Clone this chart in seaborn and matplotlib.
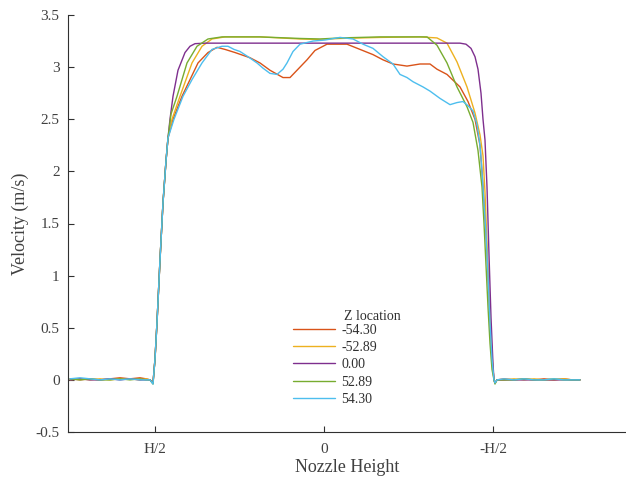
import numpy as np
import pandas as pd
import matplotlib
matplotlib.use("Agg")
import matplotlib.pyplot as plt
import seaborn as sns

# ---------------- data (x: position across nozzle, arbitrary units; H/2 = -169, -H/2 = +169) ----
z_labels = ["-54.30", "-52.89", "0.00", "52.89", "54.30"]
colors = ["#D95319", "#EDB120", "#7E2F8E", "#77AC30", "#4DBEEE"]

base_left_x = [-254, -244, -234, -224, -214, -204, -194, -184, -178, -174, -171]
base_right_x = [173, 180, 190, 200, 210, 220, 230, 240, 248, 256]

rise_x = [-169, -167, -164, -161, -158, -156]
rise_y = [0.20, 0.55, 1.15, 1.70, 2.10, 2.32]

# -54.30
x_m5430 = base_left_x + rise_x + [-151, -142, -134, -126, -116, -107, -99, -89, -74, -64, -54, -41, -34, -24,
                                  -17, -9, 3, 23, 36, 49, 59, 69, 83, 96, 106, 113, 123, 136, 144, 151, 156,
                                  158, 160, 162, 164, 166, 168, 170, 171] + base_right_x
y_m5430 = [0.01, 0.0, 0.01, 0.0, 0.01, 0.02, 0.01, 0.02, 0.01, 0.0, -0.03] + rise_y + \
          [2.50, 2.72, 2.88, 3.04, 3.14, 3.19, 3.17, 3.14, 3.09, 3.04, 2.97, 2.90, 2.90, 3.00,
           3.07, 3.16, 3.22, 3.22, 3.17, 3.12, 3.07, 3.03, 3.01, 3.03, 3.03, 2.98, 2.93, 2.81, 2.67, 2.50, 2.25,
           2.00, 1.70, 1.40, 1.00, 0.55, 0.20, 0.00, -0.03] + \
          [0.0, 0.01, 0.0, 0.01, 0.0, 0.01, 0.0, 0.01, 0.0, 0.0]

# -52.89
x_m5289 = base_left_x + rise_x + [-152, -144, -132, -122, -112, -99, -64, -24, -4, 16, 56, 96, 113, 123, 133,
                                  143, 151, 156, 159, 161, 163, 165, 167, 169, 170, 171] + base_right_x
y_m5289 = [0.0, 0.01, 0.0, 0.01, 0.0, 0.01, 0.01, 0.0, 0.01, 0.0, -0.03] + rise_y + \
          [2.50, 2.72, 3.04, 3.20, 3.27, 3.29, 3.29, 3.27, 3.265, 3.275, 3.285, 3.29, 3.28, 3.23, 3.05,
           2.81, 2.56, 2.35, 2.15, 1.80, 1.30, 0.80, 0.40, 0.10, 0.00, -0.03] + \
          [0.0, 0.0, 0.01, 0.0, 0.01, 0.0, 0.0, 0.01, 0.0, 0.0]

# 0.00
x_0 = base_left_x + rise_x + [-154, -151, -146, -139, -134, -129, -119, 0, 136, 142, 147, 151, 154, 157,
                              159, 161, 163, 165, 167, 169, 170, 171] + base_right_x
y_0 = [0.0, 0.01, 0.0, 0.0, 0.01, 0.0, 0.01, 0.0, 0.0, 0.0, -0.03] + rise_y + \
      [2.50, 2.72, 2.97, 3.14, 3.20, 3.225, 3.23, 3.23, 3.23, 3.22, 3.18, 3.10, 2.98, 2.75,
       2.50, 2.30, 1.85, 1.20, 0.60, 0.15, 0.00, -0.03] + \
      [0.0, 0.0, 0.0, 0.0, 0.0, 0.0, 0.0, 0.0, 0.0, 0.0]

# 52.89
x_5289 = base_left_x + rise_x + [-153, -147, -137, -127, -116, -102, -64, -24, -4, 16, 56, 96, 103, 113, 123,
                                 133, 143, 149, 154, 158, 160, 162, 164, 166, 168, 170, 171] + base_right_x
y_5289 = [0.01, 0.0, 0.01, 0.0, 0.0, 0.01, 0.0, 0.01, 0.0, 0.0, -0.04] + rise_y + \
         [2.55, 2.72, 3.04, 3.20, 3.27, 3.29, 3.29, 3.275, 3.27, 3.28, 3.29, 3.29, 3.29, 3.21, 3.04,
          2.81, 2.62, 2.47, 2.20, 1.85, 1.50, 1.10, 0.70, 0.35, 0.10, 0.00, -0.04] + \
         [0.0, 0.0, 0.0, 0.01, 0.0, 0.0, 0.01, 0.0, 0.0, 0.0]

# 54.30
x_5430 = base_left_x + rise_x + [-150, -141, -132, -122, -112, -102, -96, -90, -84, -76, -67, -61, -54, -47,
                                 -41, -37, -31, -24, -11, 1, 16, 29, 39, 49, 59, 69, 76, 83, 89, 99, 106, 116,
                                 126, 133, 139, 144, 149, 153, 156, 158, 160, 162, 164, 166, 168, 170, 171] + base_right_x
y_5430 = [0.01, 0.02, 0.01, 0.0, 0.01, 0.0, 0.01, 0.0, 0.0, 0.0, -0.04] + rise_y + \
         [2.50, 2.72, 2.88, 3.04, 3.17, 3.20, 3.20, 3.17, 3.15, 3.10, 3.04, 2.99, 2.94, 2.93,
          2.98, 3.04, 3.15, 3.22, 3.25, 3.26, 3.285, 3.27, 3.22, 3.18, 3.10, 3.03, 2.93, 2.90, 2.86, 2.81, 2.77,
          2.70, 2.64, 2.66, 2.67, 2.63, 2.58, 2.45, 2.25, 2.00, 1.70, 1.40, 1.00, 0.55, 0.20, 0.00, -0.03] + \
         [0.0, 0.01, 0.0, 0.01, 0.0, 0.0, 0.01, 0.0, 0.0, 0.0]

tick_pos = [-169, 0, 169]
tick_labels = ["H/2", "0", "-H/2"]
y_ticks = [-0.5, 0, 0.5, 1, 1.5, 2, 2.5, 3, 3.5]
y_tick_labels = ["-0.5", "0", "0.5", "1", "1.5", "2", "2.5", "3", "3.5"]

series_x = [x_m5430, x_m5289, x_0, x_5289, x_5430]
series_y = [y_m5430, y_m5289, y_0, y_5289, y_5430]

frames = []
for lab, xs, ys in zip(z_labels, series_x, series_y):
    frames.append(pd.DataFrame({"x": xs, "y": ys, "Z location": lab}))
df = pd.concat(frames, ignore_index=True)

# ---------------- plot ----------------
sns.set_style("white")
plt.rcParams["font.family"] = ["Liberation Serif", "DejaVu Serif"]

fig = plt.figure(figsize=(6.26, 4.79), dpi=100)
ax = fig.add_axes([68 / 626, 1 - 432 / 479, 1 - 68 / 626, (432 - 15) / 479])

sns.lineplot(data=df, x="x", y="y", hue="Z location", hue_order=z_labels,
             palette=dict(zip(z_labels, colors)), sort=False, estimator=None,
             units="Z location", linewidth=1.0, ax=ax, legend=False)

ax.set_xlim(-256, 302)
ax.set_ylim(-0.5, 3.5)
ax.set_xticks(tick_pos)
ax.set_xticklabels(tick_labels)
ax.set_yticks(y_ticks)
ax.set_yticklabels(y_tick_labels)
ax.tick_params(bottom=True, left=True, direction="in", length=4, width=0.8,
               color="#303030", labelcolor="#404040", labelsize=11)
ax.tick_params(axis="x", pad=8)
ax.tick_params(axis="y", pad=6)
for s in ["top", "right"]:
    ax.spines[s].set_visible(False)
for s in ["left", "bottom"]:
    ax.spines[s].set_color("#303030")
    ax.spines[s].set_linewidth(0.8)
ax.set_xlabel("Nozzle Height", fontsize=13, color="#404040", labelpad=2)
ax.set_ylabel("Velocity (m/s)", fontsize=13, color="#404040", labelpad=5)

handles = [plt.Line2D([], [], color=c, lw=1.0) for c in colors]
leg = ax.legend(handles, z_labels, loc="upper left", bbox_to_anchor=(293 / 626, 1 - 324 / 479),
                bbox_transform=fig.transFigure, frameon=False, fontsize=10, handlelength=3.0,
                handletextpad=0.5, labelspacing=0.3, borderpad=0, borderaxespad=0)
for t in leg.get_texts():
    t.set_color("#303030")
fig.text(344 / 626, 1 - 316 / 479, "Z location", fontsize=10, color="#303030", va="center", ha="left")

fig.savefig("out.png", dpi=100)
